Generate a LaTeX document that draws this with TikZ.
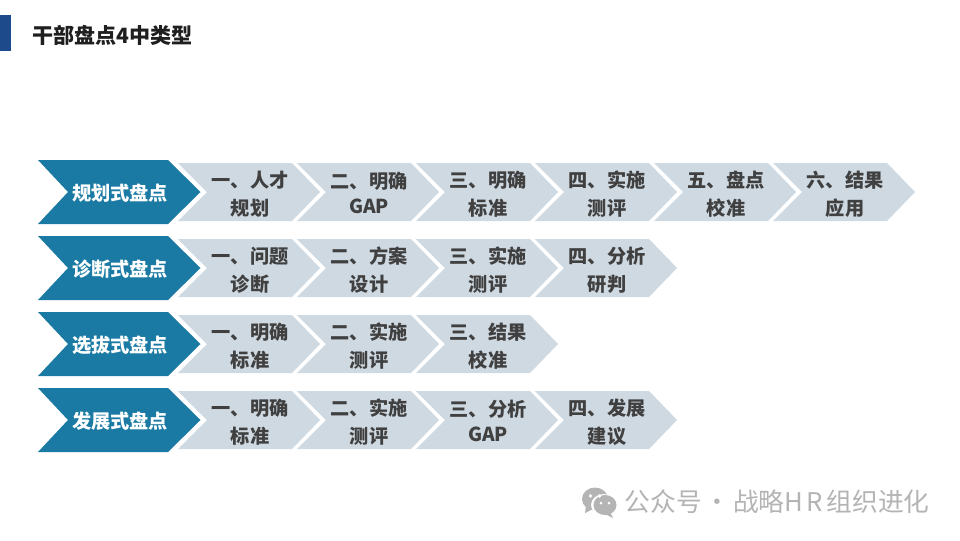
\documentclass[tikz,border=0pt]{standalone}
\usepackage{fontspec}
\setmainfont{Noto Sans CJK SC}
\definecolor{headblue}{HTML}{1A7AA3}
\definecolor{stepgrey}{HTML}{CFD9E2}
\definecolor{stepink}{HTML}{404040}
\definecolor{barblue}{HTML}{1C4A8A}
\definecolor{markgrey}{HTML}{B4B4B4}
\tikzset{
  headedge/.style={draw=white,line width=2.5pt,line join=miter},
  headshape/.style={fill=headblue,draw=none},
  headtext/.style={text=white,font=\bfseries\fontsize{14.4}{16}\selectfont,inner sep=0pt},
  steptext/.style={text=stepink,font=\bfseries\fontsize{14.4}{21}\selectfont,align=center,inner sep=0pt},
  stepshape/.style={fill=stepgrey,draw=none},
  titletext/.style={text=black!88,font=\bfseries\fontsize{15.8}{18}\selectfont,inner sep=0pt,anchor=west},
  marktext/.style={text=markgrey,font=\fontsize{19.3}{22}\selectfont,inner sep=0pt,anchor=west},
}
\newcommand{\gaptext}{\raisebox{2.2pt}{GAP}}
% #1 name, #2 left x, #3 row top y, #4 text
\newcommand{\stepchev}[4]{%
  \fill[stepshape] (#2,#3+3) -- (#2+114,#3+3) -- (#2+142,#3+32) -- (#2+114,#3+61) -- (#2,#3+61) -- (#2+29,#3+32) -- cycle;
  \node[steptext] (#1) at (#2+72,#3+34) {#4};
}
\newcommand{\headchev}[3]{%
  \path[headedge] (168,#2) -- (200.5,#2+32) -- (168,#2+64);
  \path[headshape] (38,#2) -- (168,#2) -- (200.5,#2+32) -- (168,#2+64) -- (38,#2+64) -- (68,#2+32) -- cycle;
  \node[headtext] (#1) at (120,#2+33.5) {#3};
}
\begin{document}
\begin{tikzpicture}[x=0.75pt,y=-0.75pt]
\useasboundingbox (0,0) rectangle (960,540);
\fill[white] (0,0) rectangle (960,540);
\fill[barblue] (0,15) rectangle (11,51);
\node[titletext] (title) at (32,35) {干部盘点4中类型};

\stepchev{a1}{178}{160}{一、人才\\规划}
\stepchev{a2}{297}{160}{二、明确\\\gaptext}
\stepchev{a3}{416}{160}{三、明确\\标准}
\stepchev{a4}{535}{160}{四、实施\\测评}
\stepchev{a5}{654}{160}{五、盘点\\校准}
\stepchev{a6}{773}{160}{六、结果\\应用}
\headchev{ha}{160}{规划式盘点}

\stepchev{b1}{178}{236}{一、问题\\诊断}
\stepchev{b2}{297}{236}{二、方案\\设计}
\stepchev{b3}{416}{236}{三、实施\\测评}
\stepchev{b4}{535}{236}{四、分析\\研判}
\headchev{hb}{236}{诊断式盘点}

\stepchev{c1}{178}{312}{一、明确\\标准}
\stepchev{c2}{297}{312}{二、实施\\测评}
\stepchev{c3}{416}{312}{三、结果\\校准}
\headchev{hc}{312}{选拔式盘点}

\stepchev{d1}{178}{388}{一、明确\\标准}
\stepchev{d2}{297}{388}{二、实施\\测评}
\stepchev{d3}{416}{388}{三、分析\\\gaptext}
\stepchev{d4}{535}{388}{四、发展\\建议}
\headchev{hd}{388}{发展式盘点}

% watermark logo
\fill[markgrey] (595,499) ellipse [x radius=13,y radius=11.5];
\fill[markgrey] (586,506) -- (585,513) -- (593,509) -- cycle;
\fill[white] (604,505) ellipse [x radius=13,y radius=11];
\fill[markgrey] (605,505) ellipse [x radius=11.5,y radius=10];
\fill[markgrey] (610,512) -- (613,518) -- (605,514) -- cycle;
\fill[white] (590.5,496) circle (1.8) (599.5,496) circle (1.8) (601,503) circle (1.5) (609,503) circle (1.5);
\node[marktext] (mark) at (624.5,502) {公众号\hspace{2pt}·\hspace{2pt}战略H\hspace{2.7pt}R\hspace{2.7pt}组织进化};
\end{tikzpicture}
\end{document}
